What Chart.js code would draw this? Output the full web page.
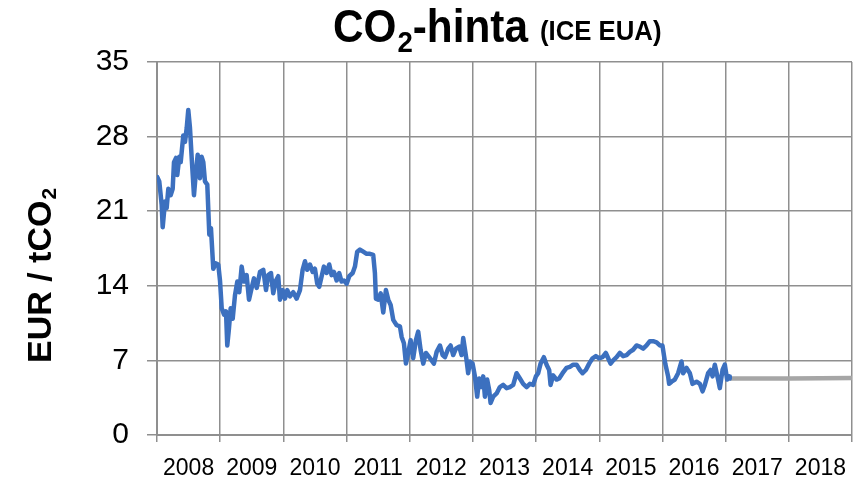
<!DOCTYPE html>
<html>
<head>
<meta charset="utf-8">
<title>CO2-hinta</title>
<script src="https://cdn.jsdelivr.net/npm/chart.js@4/dist/chart.umd.min.js"></script>
<style>
  html, body { margin: 0; padding: 0; background: #fff; }
  #wrap { width: 858px; height: 481px; }
</style>
</head>
<body>
<div id="wrap"><canvas id="co2Chart" width="858" height="481"></canvas></div>
<script>
// EUA spot price (decimal year, EUR / tCO2)
const euaYears = [
  2008.005, 2008.036, 2008.074, 2008.090, 2008.127, 2008.153, 2008.179, 2008.217, 2008.248, 2008.269,
  2008.301, 2008.321, 2008.353, 2008.375, 2008.416, 2008.443, 2008.470, 2008.495, 2008.522, 2008.549,
  2008.585, 2008.612, 2008.644, 2008.680, 2008.707, 2008.733, 2008.759, 2008.796, 2008.828, 2008.854,
  2008.891, 2008.929, 2008.970, 2008.997, 2009.024, 2009.060, 2009.092, 2009.112, 2009.139, 2009.166,
  2009.198, 2009.234, 2009.271, 2009.302, 2009.340, 2009.377, 2009.419, 2009.456, 2009.498, 2009.535,
  2009.578, 2009.630, 2009.682, 2009.725, 2009.761, 2009.804, 2009.840, 2009.883, 2009.919, 2009.946,
  2009.989, 2010.025, 2010.062, 2010.104, 2010.157, 2010.210, 2010.263, 2010.305, 2010.342, 2010.378,
  2010.421, 2010.464, 2010.500, 2010.536, 2010.568, 2010.606, 2010.642, 2010.685, 2010.726, 2010.764,
  2010.801, 2010.843, 2010.884, 2010.922, 2010.959, 2011.002, 2011.043, 2011.097, 2011.133, 2011.169,
  2011.212, 2011.264, 2011.318, 2011.370, 2011.422, 2011.449, 2011.465, 2011.502, 2011.540, 2011.581,
  2011.623, 2011.660, 2011.698, 2011.739, 2011.793, 2011.845, 2011.872, 2011.908, 2011.940, 2011.976,
  2012.014, 2012.055, 2012.098, 2012.134, 2012.172, 2012.214, 2012.256, 2012.308, 2012.346, 2012.383,
  2012.426, 2012.478, 2012.521, 2012.557, 2012.609, 2012.647, 2012.688, 2012.731, 2012.783, 2012.821,
  2012.847, 2012.900, 2012.925, 2012.953, 2012.995, 2013.032, 2013.068, 2013.100, 2013.138, 2013.163,
  2013.190, 2013.226, 2013.258, 2013.280, 2013.321, 2013.375, 2013.427, 2013.479, 2013.533, 2013.585,
  2013.638, 2013.691, 2013.744, 2013.796, 2013.850, 2013.902, 2013.954, 2013.997, 2014.033, 2014.071,
  2014.123, 2014.166, 2014.207, 2014.229, 2014.270, 2014.324, 2014.365, 2014.419, 2014.482, 2014.535,
  2014.587, 2014.641, 2014.693, 2014.736, 2014.788, 2014.840, 2014.894, 2014.946, 2014.998, 2015.052,
  2015.104, 2015.141, 2015.179, 2015.220, 2015.274, 2015.326, 2015.378, 2015.432, 2015.484, 2015.536,
  2015.590, 2015.642, 2015.695, 2015.748, 2015.801, 2015.853, 2015.907, 2015.959, 2016.000, 2016.044,
  2016.090, 2016.106, 2016.144, 2016.196, 2016.248, 2016.302, 2016.327, 2016.381, 2016.434, 2016.476,
  2016.540, 2016.592, 2016.635, 2016.671, 2016.723, 2016.761, 2016.793, 2016.829, 2016.881, 2016.908,
  2016.951, 2016.987, 2017.024, 2017.055, 2017.066
];
const euaPrice = [
  24.2, 23.8, 21.6, 19.5, 21.9, 21.3, 23.1, 22.5, 23.1, 25.6,
  26.0, 24.4, 26.1, 25.6, 28.1, 27.5, 28.8, 30.5, 28.8, 26.0,
  22.5, 24.4, 26.3, 24.1, 26.1, 25.6, 23.8, 23.5, 18.8, 19.4,
  15.6, 16.1, 16.0, 14.5, 11.9, 11.3, 11.6, 8.4, 10.0, 11.9,
  10.9, 13.1, 14.4, 13.4, 15.8, 14.4, 15.0, 12.7, 13.8, 14.7,
  13.8, 15.3, 15.5, 13.6, 15.0, 15.2, 13.3, 14.5, 14.9, 12.7,
  13.6, 12.8, 13.6, 13.0, 13.4, 12.8, 13.6, 15.5, 16.3, 15.5,
  16.0, 15.3, 15.6, 14.2, 13.9, 14.9, 15.8, 15.2, 16.0, 15.0,
  15.3, 14.5, 15.2, 14.4, 14.5, 14.2, 14.9, 15.2, 15.8, 17.2,
  17.4, 17.2, 17.0, 17.0, 16.9, 15.2, 12.8, 12.7, 13.3, 11.5,
  13.6, 12.7, 12.2, 10.8, 10.3, 10.2, 9.2, 8.6, 6.7, 7.7,
  8.9, 7.2, 8.9, 9.7, 8.0, 6.7, 7.7, 7.3, 7.0, 6.7,
  7.8, 8.4, 7.5, 7.3, 8.1, 8.4, 7.5, 8.1, 8.3, 7.5,
  9.1, 7.0, 5.8, 6.9, 6.7, 5.5, 3.6, 5.3, 4.5, 5.5,
  3.6, 5.2, 4.2, 3.0, 3.6, 3.9, 4.5, 4.7, 4.4, 4.5,
  4.7, 5.8, 5.3, 4.8, 4.5, 4.8, 4.7, 5.5, 5.8, 6.7,
  7.3, 6.6, 6.1, 4.7, 5.6, 5.2, 5.3, 5.8, 6.3, 6.4,
  6.6, 6.6, 6.1, 5.8, 6.1, 6.7, 7.2, 7.4, 7.2, 7.3,
  7.7, 7.2, 6.7, 7.0, 7.3, 7.7, 7.4, 7.5, 7.8, 8.0,
  8.4, 8.3, 8.1, 8.4, 8.8, 8.8, 8.7, 8.4, 8.4, 6.7,
  5.5, 4.8, 5.0, 5.2, 5.8, 6.9, 5.8, 6.3, 5.8, 4.8,
  5.0, 4.8, 4.1, 4.7, 5.8, 6.1, 5.5, 6.6, 5.2, 4.4,
  6.1, 6.6, 5.2, 5.5, 5.3
];

// futures curve (grey)
const futYears = [2017.066, 2018.0, 2019.0];
const futPrice = [5.3, 5.3, 5.35];

const yearTicks = [2008, 2009, 2010, 2011, 2012, 2013, 2014, 2015, 2016, 2017, 2018];
const priceTicks = [0, 7, 14, 21, 28, 35];

const toPoints = (xs, ys) => xs.map((x, i) => ({ x: x, y: ys[i] }));

// title and y-axis caption, both need a subscript 2
const captionPlugin = {
    id: 'captions',
    afterDraw(chart) {
        const ctx = chart.ctx;
        const fam = "'Liberation Sans Narrow', 'Liberation Sans', Arial, sans-serif";
        ctx.save();
        ctx.fillStyle = '#000';
        ctx.textBaseline = 'alphabetic';
        ctx.textAlign = 'left';

        // Title, squeezed a little to look like a narrow face
        ctx.save();
        ctx.translate(333, 42);
        ctx.scale(0.92, 1);
        let x = 0;
        ctx.font = 'bold 46px ' + fam;
        ctx.fillText('CO', x, 0);
        x += ctx.measureText('CO').width + 1;
        ctx.font = 'bold 30px ' + fam;
        ctx.fillText('2', x, 10);
        x += ctx.measureText('2').width;
        ctx.font = 'bold 46px ' + fam;
        ctx.fillText('-hinta', x, 0);
        x += ctx.measureText('-hinta').width + 13;
        ctx.font = 'bold 28px ' + fam;
        ctx.fillText('(ICE EUA)', x, -2);
        ctx.restore();

        // Y axis caption
        ctx.translate(51, 363);
        ctx.rotate(-Math.PI / 2);
        ctx.font = "bold 34px 'Liberation Sans', Arial, sans-serif";
        ctx.fillText('EUR / tCO', 0, 0);
        const w = ctx.measureText('EUR / tCO').width;
        ctx.font = "bold 21px 'Liberation Sans', Arial, sans-serif";
        ctx.fillText('2', w + 1, 5);
        ctx.restore();
    }
};

const gridColor = '#8f8f8f';

new Chart(document.getElementById('co2Chart'), {
    type: 'line',
    data: {
        datasets: [
            {
                label: 'EUA',
                data: toPoints(euaYears, euaPrice),
                borderColor: '#3c70bf',
                borderWidth: 4.5,
                pointRadius: 0,
                tension: 0,
                borderJoinStyle: 'round',
                borderCapStyle: 'round'
            },
            {
                label: 'Futures',
                data: toPoints(futYears, futPrice),
                borderColor: '#a6a6a6',
                borderWidth: 4.5,
                pointRadius: 0,
                tension: 0
            }
        ]
    },
    options: {
        responsive: false,
        animation: false,
        layout: { padding: { top: 62, right: 6, left: 0, bottom: 0 } },
        plugins: {
            legend: { display: false },
            tooltip: { enabled: false },
            title: { display: false }
        },
        scales: {
            x: {
                type: 'linear',
                min: 2008,
                max: 2019,
                afterBuildTicks: (scale) => {
                    scale.ticks = yearTicks.concat([2019]).map(v => ({ value: v }));
                },
                afterFit: (scale) => {
                    scale.height = 46;
                    scale.paddingLeft = 0;
                    scale.paddingRight = 0;
                },
                ticks: {
                    autoSkip: false,
                    maxRotation: 0,
                    labelOffset: 31.6,
                    padding: 13,
                    color: '#000',
                    font: { family: "'Liberation Sans', Arial, sans-serif", size: 23 },
                    callback: (v) => yearTicks.includes(v) ? String(v) : ''
                },
                grid: { color: gridColor, lineWidth: 1.5, tickLength: 7, drawTicks: true },
                border: { display: true, color: gridColor, width: 2 }
            },
            y: {
                min: 0,
                max: 35,
                afterBuildTicks: (scale) => {
                    scale.ticks = priceTicks.map(v => ({ value: v }));
                },
                afterFit: (scale) => { scale.width = 157; },
                ticks: {
                    padding: 18,
                    color: '#000',
                    font: { family: "'Liberation Sans', Arial, sans-serif", size: 30 }
                },
                grid: { color: gridColor, lineWidth: 1.5, tickLength: 10, drawTicks: true },
                border: { display: true, color: gridColor, width: 2 }
            }
        }
    },
    plugins: [captionPlugin]
});
</script>
</body>
</html>
